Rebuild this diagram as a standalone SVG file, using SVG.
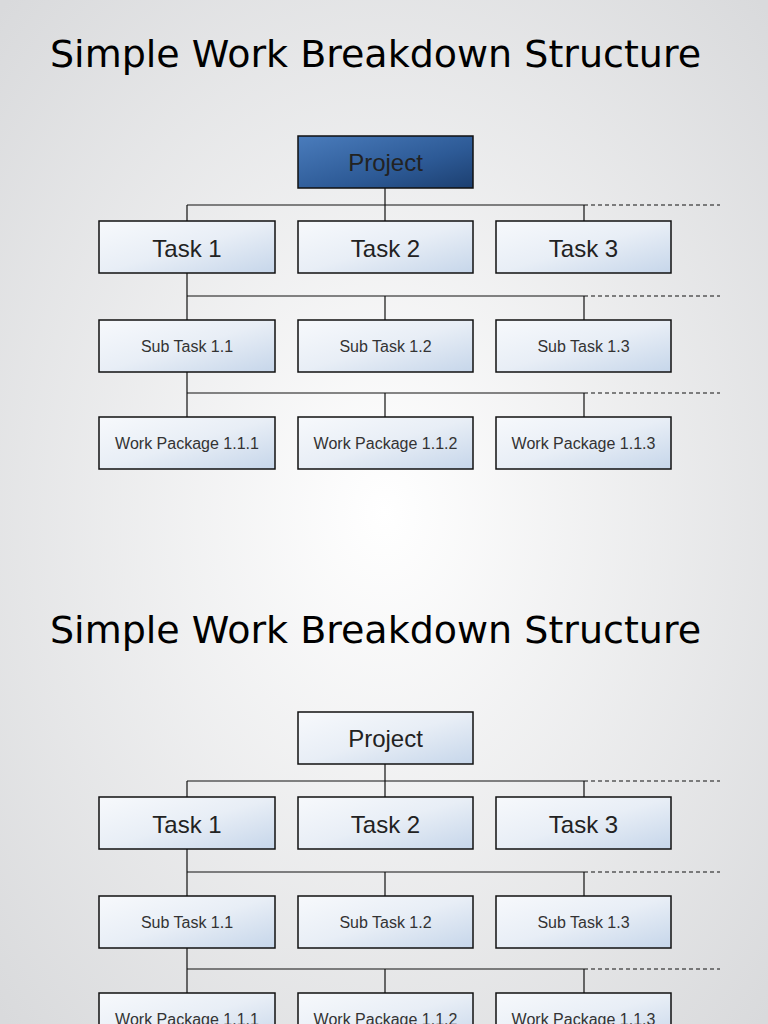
<svg xmlns="http://www.w3.org/2000/svg" width="768" height="1024" viewBox="0 0 768 1024">
<defs>
<radialGradient id="bg" cx="0.5" cy="0.5" r="0.7"><stop offset="0" stop-color="#ffffff"/><stop offset="1" stop-color="#d9dadc"/></radialGradient>
<linearGradient id="box" x1="0" y1="0" x2="1" y2="1"><stop offset="0" stop-color="#f7f9fc"/><stop offset="0.5" stop-color="#e8eef6"/><stop offset="1" stop-color="#c6d6ea"/></linearGradient>
<linearGradient id="dark" x1="0" y1="0" x2="1" y2="1"><stop offset="0" stop-color="#4a7cbc"/><stop offset="0.6" stop-color="#2d5a96"/><stop offset="1" stop-color="#1c3f70"/></linearGradient>
<style>
.b{fill:url(#box);stroke:#111;stroke-width:1.5}
.d{fill:url(#dark);stroke:#111;stroke-width:1.5}
.t{font-family:"Liberation Sans",Arial,sans-serif;fill:#222;text-anchor:middle}
.l{font-size:24px}.s{font-size:16px;fill:#333}
.h{font-family:"DejaVu Sans",sans-serif;font-size:38px;fill:#000}
.c{stroke:#111;stroke-width:1.2;fill:none}
.dash{stroke:#111;stroke-width:1.2;stroke-dasharray:4 3;fill:none}
</style>
</defs>
<rect width="768" height="1024" fill="url(#bg)"/>
<g id="slide1">
<text class="h" x="50" y="67">Simple Work Breakdown Structure</text>
<g id="connectors1">
<path class="c" d="M385 188V221M187 205H584M187 205V221M584 205V221M187 273V320M187 296H584M385 296V320M584 296V320M187 372V417M187 393H584M385 393V417M584 393V417"/>
<path class="dash" d="M584 205H720M584 296H720M584 393H720"/>
</g>
<g id="project1"><rect class="d" x="298" y="136" width="175" height="52"/><text class="t l" x="385.5" y="171">Project</text></g>
<g id="task1a"><rect class="b" x="99" y="221" width="176" height="52"/><text class="t l" x="187" y="257">Task 1</text></g>
<g id="task2a"><rect class="b" x="298" y="221" width="175" height="52"/><text class="t l" x="385.5" y="257">Task 2</text></g>
<g id="task3a"><rect class="b" x="496" y="221" width="175" height="52"/><text class="t l" x="583.5" y="257">Task 3</text></g>
<g id="sub11a"><rect class="b" x="99" y="320" width="176" height="52"/><text class="t s" x="187" y="352">Sub Task 1.1</text></g>
<g id="sub12a"><rect class="b" x="298" y="320" width="175" height="52"/><text class="t s" x="385.5" y="352">Sub Task 1.2</text></g>
<g id="sub13a"><rect class="b" x="496" y="320" width="175" height="52"/><text class="t s" x="583.5" y="352">Sub Task 1.3</text></g>
<g id="wp111a"><rect class="b" x="99" y="417" width="176" height="52"/><text class="t s" x="187" y="449">Work Package 1.1.1</text></g>
<g id="wp112a"><rect class="b" x="298" y="417" width="175" height="52"/><text class="t s" x="385.5" y="449">Work Package 1.1.2</text></g>
<g id="wp113a"><rect class="b" x="496" y="417" width="175" height="52"/><text class="t s" x="583.5" y="449">Work Package 1.1.3</text></g>
</g>
<g id="slide2" transform="translate(0,576)">
<text class="h" x="50" y="67">Simple Work Breakdown Structure</text>
<g id="connectors2">
<path class="c" d="M385 188V221M187 205H584M187 205V221M584 205V221M187 273V320M187 296H584M385 296V320M584 296V320M187 372V417M187 393H584M385 393V417M584 393V417"/>
<path class="dash" d="M584 205H720M584 296H720M584 393H720"/>
</g>
<g id="project2"><rect class="b" x="298" y="136" width="175" height="52"/><text class="t l" x="385.5" y="171">Project</text></g>
<g id="task1b"><rect class="b" x="99" y="221" width="176" height="52"/><text class="t l" x="187" y="257">Task 1</text></g>
<g id="task2b"><rect class="b" x="298" y="221" width="175" height="52"/><text class="t l" x="385.5" y="257">Task 2</text></g>
<g id="task3b"><rect class="b" x="496" y="221" width="175" height="52"/><text class="t l" x="583.5" y="257">Task 3</text></g>
<g id="sub11b"><rect class="b" x="99" y="320" width="176" height="52"/><text class="t s" x="187" y="352">Sub Task 1.1</text></g>
<g id="sub12b"><rect class="b" x="298" y="320" width="175" height="52"/><text class="t s" x="385.5" y="352">Sub Task 1.2</text></g>
<g id="sub13b"><rect class="b" x="496" y="320" width="175" height="52"/><text class="t s" x="583.5" y="352">Sub Task 1.3</text></g>
<g id="wp111b"><rect class="b" x="99" y="417" width="176" height="52"/><text class="t s" x="187" y="449">Work Package 1.1.1</text></g>
<g id="wp112b"><rect class="b" x="298" y="417" width="175" height="52"/><text class="t s" x="385.5" y="449">Work Package 1.1.2</text></g>
<g id="wp113b"><rect class="b" x="496" y="417" width="175" height="52"/><text class="t s" x="583.5" y="449">Work Package 1.1.3</text></g>
</g>
</svg>
